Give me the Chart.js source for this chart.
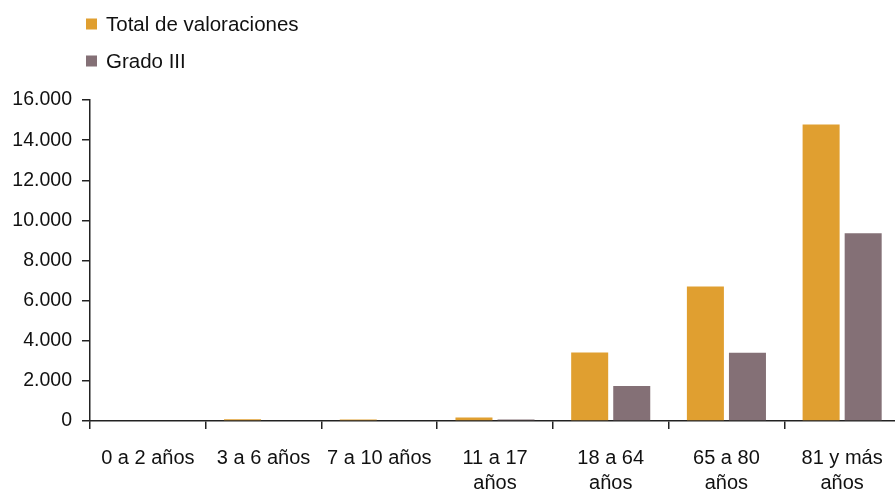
<!DOCTYPE html>
<html>
<head>
<meta charset="utf-8">
<script src="https://cdn.jsdelivr.net/npm/chart.js@4.4.0/dist/chart.umd.min.js"></script>
<style>
html,body{margin:0;padding:0;background:#fff;overflow:hidden;width:895px;height:491px;}
#wrap{position:absolute;left:0;top:0;width:900px;height:491px;}
</style>
</head>
<body>
<div id="wrap"><canvas id="c" width="900" height="491"></canvas></div>
<script>
const categories = ['0 a 2 años', '3 a 6 años', '7 a 10 años', ['11 a 17', 'años'], ['18 a 64', 'años'], ['65 a 80', 'años'], ['81 y más', 'años']];
const seriesNames = ['Total de valoraciones', 'Grado III'];
const totalValoraciones = [0, 90, 70, 180, 3420, 6700, 14780];
const gradoIII = [0, 0, 0, 80, 1750, 3400, 9360];
const yTicks = [0, 2000, 4000, 6000, 8000, 10000, 12000, 14000, 16000];
const colors = ['#E09F30', '#847076'];
const FONT = 'Arial, "Liberation Sans", sans-serif';

const legendPlugin = {
  id: 'vLegend',
  afterDraw(chart) {
    const ctx = chart.ctx;
    ctx.save();
    ctx.font = '20.5px ' + FONT;
    ctx.textBaseline = 'middle';
    ctx.textAlign = 'left';
    chart.data.datasets.forEach((ds, i) => {
      const cy = 24.5 + i * 37;
      ctx.fillStyle = ds.backgroundColor;
      ctx.fillRect(86, cy - 6, 11, 11);
      ctx.fillStyle = '#111';
      ctx.fillText(ds.label, 106, cy + 1);
    });
    ctx.restore();
  }
};

function fmt(v) {
  return v.toString().replace(/\B(?=(\d{3})+(?!\d))/g, '.');
}

new Chart(document.getElementById('c'), {
  type: 'bar',
  data: {
    labels: categories,
    datasets: [
      { label: seriesNames[0], data: totalValoraciones, backgroundColor: colors[0], categoryPercentage: 0.727, barPercentage: 0.88 },
      { label: seriesNames[1], data: gradoIII, backgroundColor: colors[1], categoryPercentage: 0.727, barPercentage: 0.88 }
    ]
  },
  options: {
    responsive: false,
    animation: false,
    devicePixelRatio: 1,
    layout: { padding: { top: 100, left: 0, right: 0, bottom: 0 } },
    plugins: { legend: { display: false }, tooltip: { enabled: false } },
    scales: {
      x: {
        grid: { drawOnChartArea: false, drawTicks: true, tickLength: 8, color: '#222', lineWidth: 1.5, offset: true },
        border: { display: true, color: '#222', width: 1.5 },
        ticks: { color: '#111', font: { family: FONT, size: 20, lineHeight: 1.25 }, padding: 17, maxRotation: 0, autoSkip: false },
        afterFit(s) { s.height = 70; }
      },
      y: {
        min: 0, max: 16000,
        afterBuildTicks(s) { s.ticks = yTicks.map(v => ({ value: v })); },
        grid: { drawOnChartArea: false, drawTicks: true, tickLength: 8, color: '#222', lineWidth: 1.5 },
        border: { display: true, color: '#222', width: 1.5 },
        ticks: { color: '#111', font: { family: FONT, size: 19.5 }, padding: 10, callback: v => fmt(v) },
        afterFit(s) { s.width = 90; }
      }
    }
  },
  plugins: [legendPlugin]
});
</script>
</body>
</html>
